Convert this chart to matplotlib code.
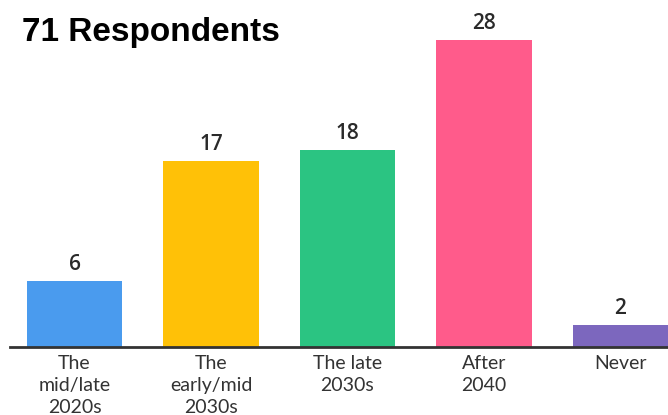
import matplotlib
matplotlib.use("Agg")
import matplotlib.pyplot as plt

categories = ["The\nmid/late\n2020s", "The\nearly/mid\n2030s", "The late\n2030s", "After\n2040", "Never"]
counts = [6, 17, 18, 28, 2]
colors = ["#4A9BEE", "#FFC107", "#2BC482", "#FF5B8B", "#7C67BE"]
title = "71 Respondents"

W, H = 668, 415
fig = plt.figure(figsize=(W / 100, H / 100), dpi=100)

# axes spans from the baseline (y=347 px) to the top edge
bottom = (H - 347) / H
ax = fig.add_axes([10 / W, bottom, 1 - 10 / W, 1 - bottom])

x = list(range(len(counts)))
ax.bar(x, counts, width=0.70, color=colors, zorder=2)
ax.set_xlim((10 - 74.5) / 136.5, (668 - 74.5) / 136.5)
ax.set_ylim(0, 347 / 10.96)

for xi, v in zip(x, counts):
    ax.text(xi, v + 0.55, str(v), ha="center", va="bottom",
            fontsize=15, color="#2a2a2a", family="Open Sans", fontweight="semibold")

for s in ["top", "right", "left"]:
    ax.spines[s].set_visible(False)
ax.spines["bottom"].set_linewidth(2)
ax.spines["bottom"].set_color("#333333")
ax.set_yticks([])
ax.set_xticks(x)
ax.set_xticklabels(categories, fontsize=14, color="#333333", family="Lato",
                   linespacing=1.35)
ax.tick_params(axis="x", length=0, pad=6)

fig.text(22 / W, 1 - 33 / H, title, ha="left", va="center", fontsize=24,
         fontweight="bold", family="Liberation Sans", color="black")

fig.savefig("out.png", dpi=100)
